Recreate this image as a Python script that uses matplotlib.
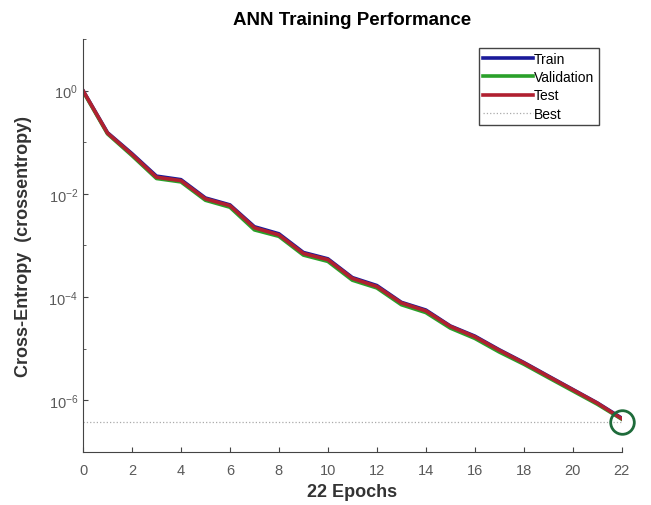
import numpy as np
import matplotlib.pyplot as plt
from matplotlib.ticker import LogLocator, FixedLocator

plt.rcParams['font.family'] = ['Liberation Sans', 'DejaVu Sans']

# Valores
epochs = list(range(23))
train = [1.0, 0.153, 0.060, 0.022, 0.0188, 0.0083, 0.0061, 0.0023, 0.00168, 0.00073,
         0.00055, 0.000238, 0.000167, 7.9e-5, 5.6e-5, 2.75e-5, 1.75e-5, 9.5e-6,
         5.4e-6, 2.95e-6, 1.62e-6, 8.9e-7, 4.5e-7]
validation = [0.97, 0.145, 0.055, 0.0198, 0.0170, 0.0075, 0.0055, 0.0020, 0.00150, 0.00065,
              0.00049, 0.000212, 0.000150, 7.1e-5, 5.0e-5, 2.5e-5, 1.58e-5, 8.6e-6,
              5.0e-6, 2.75e-6, 1.52e-6, 8.4e-7, 4.3e-7]
test = [1.0, 0.150, 0.058, 0.021, 0.0180, 0.0080, 0.0059, 0.0022, 0.00160, 0.00070,
        0.00053, 0.000230, 0.000160, 7.7e-5, 5.4e-5, 2.7e-5, 1.7e-5, 9.3e-6,
        5.3e-6, 2.9e-6, 1.6e-6, 8.8e-7, 4.4e-7]
best_epoch = 22
best_value = 3.8e-7

fig = plt.figure(figsize=(6.51, 5.06), dpi=100)
ax = fig.add_axes([0.1275, 0.105, 0.8275, 0.816])

ax.plot(epochs, train, color='#1a1a9a', lw=2.6, label='Train')
ax.plot(epochs, validation, color='#2aa02a', lw=2.6, label='Validation')
ax.plot(epochs, test, color='#b02030', lw=2.6, label='Test')
ax.axhline(best_value, color='#aaaaaa', lw=0.9, ls=':', label='Best')
ax.plot(best_epoch, best_value, 'o', ms=17, mfc='none', mec='#1e6b3a', mew=2,
        clip_on=False)

ax.set_yscale('log')
ax.set_xlim(0, 22)
ax.set_ylim(1e-7, 1e1)
ax.set_xticks(range(0, 23, 2))
ax.yaxis.set_major_locator(FixedLocator([1e-6, 1e-4, 1e-2, 1e0]))
ax.yaxis.set_minor_locator(LogLocator(base=10, subs=(1.0,), numticks=20))
ax.yaxis.set_minor_formatter(plt.NullFormatter())

for s in ['top', 'right']:
    ax.spines[s].set_visible(False)
for s in ['left', 'bottom']:
    ax.spines[s].set_color('#444444')
ax.tick_params(axis='both', which='both', direction='in', colors='#444444',
               labelcolor='#5a5a5a', labelsize=10.5)
ax.tick_params(axis='y', which='minor', length=2)
ax.tick_params(axis='x', pad=8)

ax.set_title('ANN Training Performance', fontsize=13.5, fontweight='bold', pad=11)
ax.set_ylabel('Cross-Entropy  (crossentropy)', fontsize=13, fontweight='bold',
              color='#333333', labelpad=12)
ax.set_xlabel('22 Epochs', fontsize=13, fontweight='bold', color='#333333', labelpad=4)

leg = ax.legend(loc='upper right', bbox_to_anchor=(0.97, 0.995), fontsize=10,
                fancybox=False, edgecolor='#444444', handlelength=3.6,
                handletextpad=0.1, borderpad=0.3, labelspacing=0.3, framealpha=1)
leg.get_frame().set_linewidth(1.0)

fig.savefig('out.png', dpi=100)
